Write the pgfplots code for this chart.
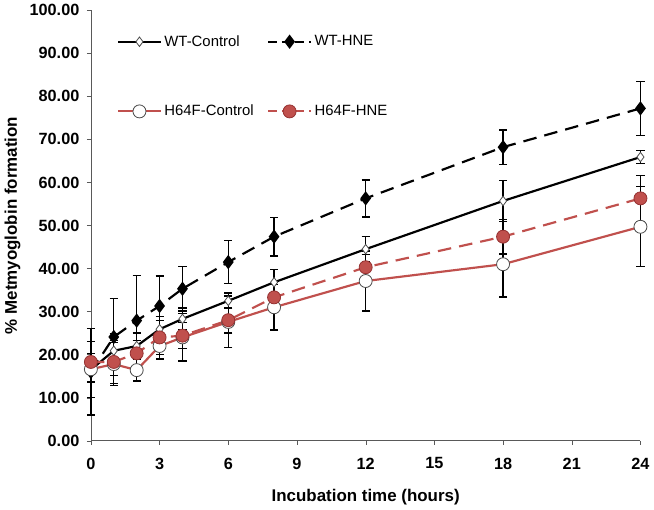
\documentclass[border=0pt]{standalone}
\usepackage{fontspec}
\setmainfont{Liberation Sans}
\usepackage{pgfplots}
\usepackage{pgfplotstable}
\pgfplotsset{compat=1.18}
\definecolor{exred}{RGB}{192,80,77}
\definecolor{exredd}{RGB}{150,50,50}

% time, mean, error
\pgfplotstableread{
x y e
0 16.5 6.5
1 20.9 4.0
2 22.0 3.0
3 25.9 3.0
4 28.3 2.5
6 32.5 1.8
8 36.8 3.0
12 44.5 3.0
18 55.7 4.7
24 65.9 1.5
}\wtcontrol
\pgfplotstableread{
x y e
0 16.0 10.0
1 24.1 9.0
2 27.9 10.5
3 31.3 7.0
4 35.3 5.2
6 41.5 5.0
8 47.4 4.5
12 56.3 4.3
18 68.2 4.0
24 77.2 6.3
}\wthne
\pgfplotstableread{
x y e
0 16.6 3.0
1 17.8 5.0
2 16.4 2.5
3 22.0 3.0
4 24.0 5.5
6 27.6 6.0
8 31.0 5.3
12 37.1 7.0
18 41.0 7.6
24 49.7 9.3
}\hcontrol
\pgfplotstableread{
x y e
0 18.3 2.0
1 18.3 5.0
2 20.3 3.0
3 24.0 4.0
4 24.4 3.0
6 28.0 3.0
8 33.3 3.0
12 40.3 3.0
18 47.4 4.0
24 56.3 5.3
}\hhne

\begin{document}
\begin{tikzpicture}
\begin{axis}[
  scale only axis, width=406pt, height=318pt,
  xmin=0, xmax=24, ymin=0, ymax=100,
  xtick={0,3,...,24}, ytick={0,10,...,100},
  axis lines=left, axis line style={gray!70!black, -},
  tick align=outside, tick style={gray!70!black},
  major tick length=3pt,
  clip=false,
  ticklabel style={font=\bfseries\fontsize{12}{14}\selectfont},
  /pgf/number format/assume math mode=true,
  yticklabel style={xshift=-2pt, /pgf/number format/.cd, fixed, fixed zerofill, precision=2},
  xticklabel style={yshift=-6pt},
  xlabel={\bfseries Incubation time (hours)},
  ylabel={\bfseries \% Metmyoglobin formation},
  label style={font=\bfseries\fontsize{12.5}{14}\selectfont},
  xlabel style={yshift=-8pt},
  legend columns=2,
  legend style={draw=none, fill=none, at={(0.04,0.955)}, anchor=north west,
    font=\fontsize{11}{13}\selectfont, row sep=38pt,
    /tikz/every even column/.append style={column sep=8pt}},
  legend cell align=left,
  legend image code/.code={\draw[mark repeat=2, mark phase=2]
    plot coordinates {(0cm,0cm) (0.55cm,0cm) (1.1cm,0cm)};},
  error bars/error bar style={solid, black, line width=1pt},
  error bars/error mark options={solid, rotate=90, mark size=3pt, line width=1pt, black},
]
\addplot[black, line width=1.6pt, mark=diamond*, mark size=3.5pt,
  mark options={solid, fill=white, draw=gray!60!black, line width=0.6pt},
  error bars/.cd, y dir=both, y explicit]
  table[x=x, y=y, y error=e] {\wtcontrol};
\addlegendentry{WT-Control}
\addplot[black, line width=1.6pt, dash pattern=on 10pt off 6pt, mark=diamond*, mark size=4pt,
  mark options={solid, fill=black, draw=black},
  legend image post style={dash pattern=on 6pt off 4pt},
  error bars/.cd, y dir=both, y explicit]
  table[x=x, y=y, y error=e] {\wthne};
\addlegendentry{WT-HNE}
\addplot[exred, line width=1.6pt, mark=*, mark size=4.8pt,
  mark options={solid, fill=white, draw=gray!60!black, line width=0.6pt},
  error bars/.cd, y dir=both, y explicit]
  table[x=x, y=y, y error=e] {\hcontrol};
\addlegendentry{H64F-Control}
\addplot[exred, line width=1.6pt, dash pattern=on 10pt off 6pt, mark=*, mark size=4.8pt,
  mark options={solid, fill=exred, draw=exredd, line width=0.6pt},
  legend image post style={dash pattern=on 6pt off 4pt},
  error bars/.cd, y dir=both, y explicit]
  table[x=x, y=y, y error=e] {\hhne};
\addlegendentry{H64F-HNE}
\end{axis}
\end{tikzpicture}
\end{document}
